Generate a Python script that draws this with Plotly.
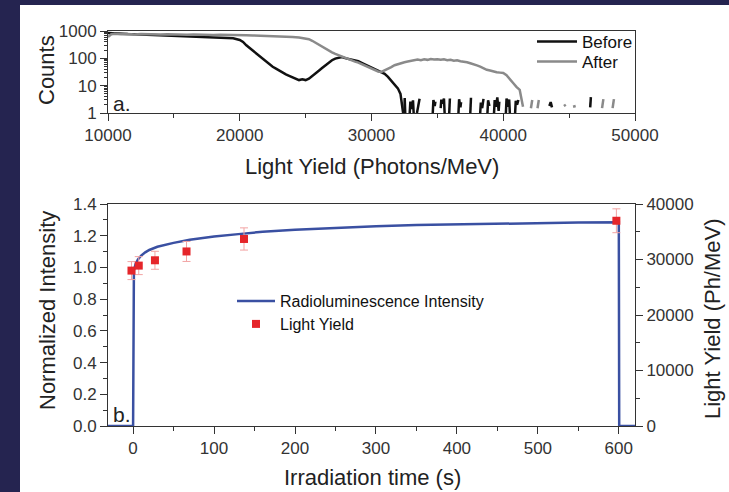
import plotly.graph_objects as go

# ---------------- Panel a data (Counts vs Light Yield) ----------------
before_x = [10000, 10500, 11000, 11500, 12000, 12500, 13000, 13500, 14000, 14500,
            15000, 15500, 16000, 16500, 17000, 17500, 18000, 18500, 19000, 19500,
            20000, 20250, 20500, 20750, 21000, 21250, 21500, 21750, 22000, 22250,
            22500, 22750, 23000, 23250, 23500, 23750, 24000, 24250, 24500, 24750,
            25000, 25250, 25500, 25750, 26000, 26250, 26500, 26750, 27000, 27250,
            27500, 27750, 28000, 28250, 28500, 28750, 29000, 29250, 29500, 29750,
            30000, 30250, 30500, 30750, 31000, 31250, 31500, 31750, 32000, 32200, 32400]
before_y = [850, 810, 800, 770, 760, 745, 720, 710, 690, 680,
            660, 650, 630, 625, 600, 590, 575, 560, 550, 540,
            470, 400, 300, 240, 190, 150, 120, 95, 75, 60,
            49, 42, 35, 30, 26, 23, 20, 18, 16, 17,
            16, 18, 22, 28, 35, 44, 55, 68, 85, 98,
            105, 112, 102, 96, 90, 84, 78, 68, 60, 52,
            46, 40, 36, 31, 27, 21, 15, 11, 8, 5, 1]

# noisy spikes of the "Before" spectrum at high light yield (None = gap)
before_noise_x = [32500, 32520, 32560, None,
                  32900, 32950, 33050, 33150, 33200, None,
                  33450, 33550, 33650, None,
                  34650, 34700, 34800, 34850, None,
                  35250, 35300, 35400, 35500, 35550, None,
                  35900, 35950, None,
                  36600, 36650, 36750, 36800, None,
                  37500, 37550, None,
                  38250, 38300, 38400, 38500, None,
                  38800, 38850, 38950, None,
                  39300, 39350, 39450, 39550, 39650, 39700, None,
                  40200, 40250, 40350, 40450, 40500, None,
                  40900, 40950, 41050, 41150, None,
                  43500, 43600, 43700, None,
                  46600, 46650]
before_noise_y = [1, 3.5, 1, None,
                  1, 2.6, 1.4, 2.9, 1, None,
                  1, 2.2, 3.3, None,
                  1, 3.0, 1.8, 2.6, None,
                  1.5, 3.1, 2.2, 3.4, 1, None,
                  1, 3.4, None,
                  1, 3.2, 1.6, 2.5, None,
                  1, 3.6, None,
                  1, 2.4, 1.5, 3.3, None,
                  1, 2.9, 1.8, None,
                  1, 3.0, 1.7, 3.7, 1.2, 2.6, None,
                  1, 3.4, 1.7, 3.1, 1, None,
                  1, 2.8, 2.0, 3.0, None,
                  1.8, 2.5, 1.6, None,
                  1.6, 3.8]

after_x = [10000, 10250, 10500, 11000, 11500, 12000, 12500, 13000, 13500, 14000,
           14500, 15000, 15500, 16000, 16500, 17000, 17500, 18000, 18500, 19000,
           19500, 20000, 20500, 21000, 21500, 22000, 22500, 23000, 23500, 24000,
           24500, 25000, 25250, 25500, 25750, 26000, 26250, 26500, 26750, 27000,
           27250, 27500, 27750, 28000, 28250, 28500, 28750, 29000, 29250, 29500,
           29750, 30000, 30250, 30500, 30750, 31000, 31250, 31500, 31750, 32000,
           32250, 32500, 32750, 33000, 33250, 33500, 33750, 34000, 34250, 34500,
           34750, 35000, 35250, 35500, 35750, 36000, 36250, 36500, 36750, 37000,
           37250, 37500, 37750, 38000, 38250, 38500, 38750, 39000, 39250, 39500,
           39750, 40000, 40250, 40500, 40750, 41000, 41250, 41500]
after_y = [600, 760, 790, 760, 780, 750, 770, 745, 765, 740,
           760, 735, 755, 730, 750, 725, 745, 720, 735, 715,
           725, 710, 700, 690, 680, 670, 650, 640, 620, 600,
           580, 545, 500, 440, 370, 320, 275, 235, 195, 165,
           145, 130, 112, 100, 92, 84, 76, 70, 62, 55,
           48, 43, 38, 33, 32, 36, 42, 48, 56, 62,
           67, 72, 76, 82, 86, 90, 85, 92, 88, 95,
           90, 93, 88, 92, 86, 89, 82, 85, 78, 76,
           72, 66, 62, 55, 50, 44, 38, 36, 33, 31,
           30, 29, 24, 18, 12.5, 9, 7, 1.7]

after_noise_x = [42100, 42200, None, 42600, 42700, None, 44600, 44750, None,
                 45300, 45500, None, 47500, 47600, None, 48300, 48400]
after_noise_y = [1.5, 3, None, 1.5, 3, None, 1.8, 2.0, None,
                 1.7, 1.8, None, 1.5, 3.2, None, 1.5, 3.2]

# ---------------- Panel b data ----------------
rl_time = [-31, 0, 1, 3, 6, 10, 15, 20, 30, 40, 50, 70, 100, 130, 160, 200, 250, 300,
           350, 400, 450, 500, 550, 600, 600.5, 620]
rl_intensity = [0, 0, 0.98, 1.02, 1.05, 1.075, 1.095, 1.11, 1.13, 1.145, 1.155, 1.175, 1.195,
                1.21, 1.225, 1.237, 1.25, 1.26, 1.267, 1.272, 1.277, 1.28, 1.283, 1.285, 0, 0]

ly_time = [-2, 7, 27, 66, 137, 597]
ly_value = [28000, 28900, 29860, 31450, 33700, 36980]
ly_err = [1620, 1620, 1620, 1800, 2000, 2150]

W, H = 729, 492
FONT = "Arial, Liberation Sans, sans-serif"
AX = "#333333"


def px(x):
    return x / W


def py(y):
    return 1 - y / H


fig = go.Figure()

fig.add_trace(go.Scatter(x=before_x, y=before_y, mode="lines", name="Before",
                         line=dict(color="#111111", width=2.5), xaxis="x", yaxis="y",
                         legend="legend"))
fig.add_trace(go.Scatter(x=before_noise_x, y=before_noise_y, mode="lines", showlegend=False,
                         line=dict(color="#111111", width=2.5), xaxis="x", yaxis="y",
                         connectgaps=False))
fig.add_trace(go.Scatter(x=after_x, y=after_y, mode="lines", name="After",
                         line=dict(color="#8a8a8a", width=2.5), xaxis="x", yaxis="y",
                         legend="legend3"))
fig.add_trace(go.Scatter(x=after_noise_x, y=after_noise_y, mode="lines", showlegend=False,
                         line=dict(color="#8a8a8a", width=2.5), xaxis="x", yaxis="y",
                         connectgaps=False))

fig.add_trace(go.Scatter(x=rl_time, y=rl_intensity, mode="lines",
                         name="Radioluminescence Intensity",
                         line=dict(color="#3a50a2", width=2.5), xaxis="x2", yaxis="y2",
                         legend="legend2"))
fig.add_trace(go.Scatter(x=ly_time, y=ly_value, mode="markers", name="Light Yield",
                         marker=dict(symbol="square", size=8, color="#e5252a"),
                         error_y=dict(type="data", array=ly_err, color="#f2a3a3",
                                      thickness=1, width=4),
                         xaxis="x2", yaxis="y3", legend="legend4"))

tickfont = dict(family=FONT, size=17, color=AX)
common = dict(showline=True, linecolor=AX, linewidth=1, ticks="outside", ticklen=7,
              tickwidth=1, tickcolor=AX, showgrid=False, zeroline=False, tickfont=tickfont,
              automargin=False)


def leg(x, y, size, width):
    return dict(x=px(x), y=py(y), xanchor="left", yanchor="top",
                bgcolor="rgba(0,0,0,0)", font=dict(family=FONT, size=size, color="#111"),
                tracegroupgap=0, itemwidth=width)


fig.update_layout(
    template="none",
    width=W, height=H,
    margin=dict(l=0, r=0, t=0, b=0, pad=0),
    paper_bgcolor="white", plot_bgcolor="white",
    font=dict(family=FONT, color=AX),
    xaxis=dict(domain=[px(108), px(635)], anchor="y", range=[10000, 50000],
               tick0=10000, dtick=10000, tickformat="d", mirror=True,
               minor=dict(ticks="outside", ticklen=4, dtick=5000, tickcolor=AX),
               **common),
    yaxis=dict(domain=[py(113), py(31)], anchor="x", type="log", range=[0, 3],
               tickvals=[1, 10, 100, 1000], ticktext=["1", "10", "100", "1000"], mirror=True,
               minor=dict(ticks="outside", ticklen=3, dtick="D1", tickcolor=AX),
               **common),
    xaxis2=dict(domain=[px(108), px(635)], anchor="y2", range=[-31, 620],
                tick0=0, dtick=100, mirror=True,
                minor=dict(ticks="outside", ticklen=4, dtick=50, tickcolor=AX),
                **common),
    yaxis2=dict(domain=[py(426), py(204)], anchor="x2", range=[0, 1.4],
                tick0=0, dtick=0.2, tickformat=".1f", mirror=True,
                minor=dict(ticks="outside", ticklen=4, dtick=0.1, tickcolor=AX),
                **common),
    yaxis3=dict(overlaying="y2", anchor="x2", side="right", range=[0, 40000],
                tick0=0, dtick=10000, tickformat="d",
                minor=dict(ticks="outside", ticklen=4, dtick=5000, tickcolor=AX),
                **common),
    legend=leg(532, 24, 17, 40),
    legend3=leg(532, 44, 17, 40),
    legend2=leg(232, 284, 16, 38),
    legend4=leg(232, 307, 16, 38),
    showlegend=True,
)

# dark slide background strips
fig.add_shape(type="rect", xref="paper", yref="paper", x0=0, x1=px(20), y0=0, y1=1,
              fillcolor="#252450", line_width=0, layer="above")
fig.add_shape(type="rect", xref="paper", yref="paper", x0=0, x1=1, y0=py(5), y1=1,
              fillcolor="#252450", line_width=0, layer="above")

title_font = dict(family=FONT, size=22, color="#222")
annots = [
    dict(text="Counts", x=px(46), y=py(70), textangle=-90),
    dict(text="Light Yield (Photons/MeV)", x=px(372), y=py(167), textangle=0),
    dict(text="Normalized Intensity", x=px(47), y=py(310), textangle=-90),
    dict(text="Irradiation time (s)", x=px(372), y=py(477), textangle=0),
    dict(text="Light Yield (Ph/MeV)", x=px(712), y=py(319), textangle=-90),
]
for a in annots:
    fig.add_annotation(xref="paper", yref="paper", showarrow=False, font=title_font,
                       xanchor="center", yanchor="middle", **a)

fig.add_annotation(text="a.", xref="paper", yref="paper", x=px(111), y=py(103),
                   xanchor="left", yanchor="middle", showarrow=False,
                   font=dict(family=FONT, size=21, color="#222"))
fig.add_annotation(text="b.", xref="paper", yref="paper", x=px(111), y=py(414),
                   xanchor="left", yanchor="middle", showarrow=False,
                   font=dict(family=FONT, size=21, color="#222"))

fig.write_html("out.html")
